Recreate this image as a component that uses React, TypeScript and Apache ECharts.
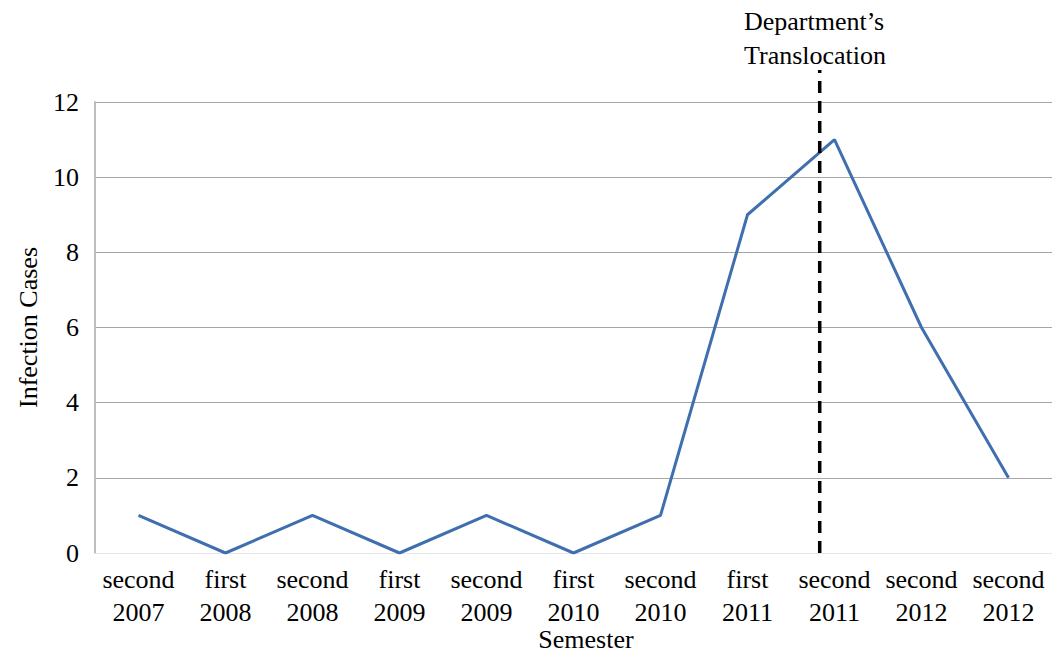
import React, { useEffect, useRef } from "react";
import * as echarts from "echarts";

const categories = [
  "second\n2007", "first\n2008", "second\n2008", "first\n2009", "second\n2009",
  "first\n2010", "second\n2010", "first\n2011", "second\n2011", "second\n2012", "second\n2012",
];
const infectionCases = [1, 0, 1, 0, 1, 0, 1, 9, 11, 6, 2];
const translocationPos = 7.83;
const translocationLine = [[translocationPos, 0], [translocationPos, 12.85]];
const yTicks = { min: 0, max: 12, interval: 2 };

const FONT = "'Liberation Serif', 'DejaVu Serif', serif";
const FS = 26;

export default function App() {
  const ref = useRef<HTMLDivElement>(null);
  useEffect(() => {
    document.body.style.margin = "0";
    const chart = echarts.init(ref.current!, undefined, { renderer: "svg" });
    chart.setOption({
      animation: false,
      backgroundColor: "#ffffff",
      textStyle: { fontFamily: FONT },
      grid: { left: 95, right: 0, top: 102, bottom: 102, containLabel: false, outerBoundsMode: "none" },
      xAxis: [
        {
          type: "category",
          data: categories,
          boundaryGap: true,
          axisLine: { show: true, lineStyle: { color: "#e6e6e6", width: 1 } },
          axisTick: { show: false },
          axisLabel: { color: "#000", fontSize: FS, fontFamily: FONT, lineHeight: 33, margin: 10, interval: 0 },
        },
        { type: "value", min: -0.5, max: 10.5, show: false },
      ],
      yAxis: {
        type: "value",
        min: yTicks.min,
        max: yTicks.max,
        interval: yTicks.interval,
        axisLine: { show: true, onZero: false, lineStyle: { color: "#bdbdbd", width: 2 } },
        axisTick: { show: false },
        splitLine: { show: true, lineStyle: { color: "#a6a6a6", width: 1 } },
        axisLabel: { color: "#000", fontSize: FS, fontFamily: FONT, margin: 16 },
        name: "Infection Cases",
        nameLocation: "middle",
        nameGap: 54,
        nameTextStyle: { color: "#000", fontSize: FS, fontFamily: FONT },
      },
      series: [
        {
          type: "line",
          data: infectionCases,
          xAxisIndex: 0,
          symbol: "none",
          lineStyle: { color: "#3f6fae", width: 3 },
        },
        {
          type: "line",
          data: translocationLine,
          xAxisIndex: 1,
          symbol: "none",
          clip: false,
          z: 3,
          lineStyle: { color: "#000", width: 3.5, type: [12, 8] },
        },
      ],
      graphic: [
        {
          type: "text",
          left: 744,
          top: 4,
          style: {
            text: "Department\u2019s\nTranslocation",
            fontSize: FS,
            fontFamily: FONT,
            fill: "#000",
            align: "center",
            lineHeight: 34,
          },
        },
        {
          type: "text",
          x: 586,
          y: 639,
          style: {
            text: "Semester",
            fontSize: FS,
            fontFamily: FONT,
            fill: "#000",
            align: "center",
            verticalAlign: "middle",
          },
        },
      ],
    });
    return () => chart.dispose();
  }, []);
  return <div ref={ref} style={{ width: 1052, height: 655, position: "absolute", left: 0, top: 0 }} />;
}
